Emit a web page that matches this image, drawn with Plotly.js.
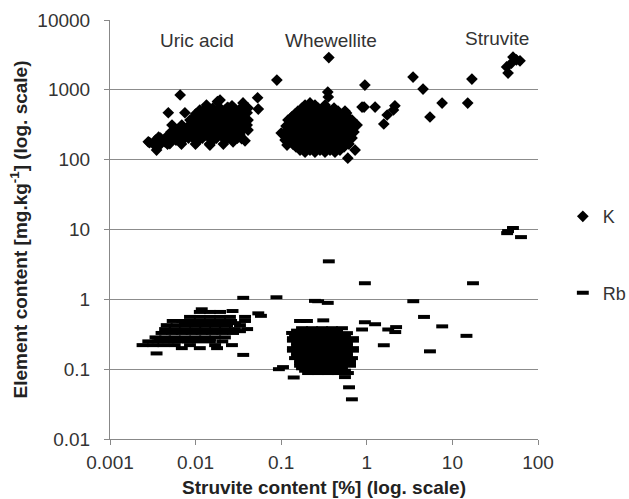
<!DOCTYPE html>
<html><head><meta charset="utf-8">
<script src="https://cdn.plot.ly/plotly-3.0.1.min.js"></script>
<style>html,body{margin:0;padding:0;background:#fff}#chart{width:629px;height:499px}</style>
</head><body><div id="chart"></div>
<script>
// ---------- K (diamonds) ----------
const uricKx = [0.0028,0.0035,0.0034,0.0037,0.0038,0.0048,0.0050,0.0057,0.0059,0.0048,
  0.0066,0.0075,0.0069,0.0077,0.0066,0.0086,0.0090,0.0099,0.0104,0.0107,
  0.0112,0.0121,0.0129,0.0134,0.0139,0.0147,0.0156,0.0165,0.0173,0.0180,
  0.0180,0.0193,0.0205,0.0220,0.0226,0.0238,0.0252,0.0266,0.0274,0.0274,
  0.0294,0.0310,0.0330,0.0345,0.0358,0.0358,0.0378,0.040,0.040,0.041,
  0.053,0.054,0.0193,0.0129,0.0099,0.0081,0.0169,0.022,0.0288,0.0147,
  0.0112,0.0075,0.0053,0.0044,0.0029,0.016,0.024,0.031,
  0.0132,0.0159,0.0193,0.0232,0.0280,0.0338,0.0410,
  0.00997,0.0120,0.0145,0.0175,0.0211,0.0255,0.0308,0.0372,
  0.00908,0.0109,0.0132,0.0159,0.0193,0.0232,0.0280,0.0338,0.0410,
  0.00684,0.00826,0.00997,0.0120,0.0145,0.0175,0.0211,0.0255,0.0308,0.0372,
  0.00516,0.00623,0.00752,0.00907,0.0109,0.0132,0.0159,0.0193,0.0232,0.0280,0.0338,
  0.00389,0.00470,0.00567,0.00684,0.00826,0.00997,0.0120,0.0145,0.0175,0.0211,0.0255,0.0308,
  0.00322,0.00470,0.00684,0.00997,0.0145,0.0211];
const uricKy = [180,137,190,210,162,225,170,265,191,470,
  843,470,313,225,180,369,265,191,180,436,
  514,313,225,605,400,162,285,480,205,680,
  345,245,436,313,191,560,395,590,265,180,
  345,470,225,200,650,295,186,470,313,265,
  770,530,714,369,313,285,313,514,436,436,
  265,205,313,180,175,191,265,313,
  548,548,548,548,548,548,548,
  450,450,450,450,450,450,450,450,
  369,369,369,369,369,369,369,369,369,
  303,303,303,303,303,303,303,303,303,303,
  248,248,248,248,248,248,248,248,248,248,248,
  204,204,204,204,204,204,204,204,204,204,204,204,
  167,167,167,167,167,167];

const wheKx = [0.190,0.248,0.325,
  0.157,0.195,0.242,0.300,0.372,0.461,0.556,
  0.134,0.166,0.206,0.255,0.316,0.392,0.486,0.602,
  0.127,0.153,0.190,0.235,0.292,0.361,0.449,0.556,0.69,
  0.120,0.149,0.185,0.229,0.284,0.352,0.436,0.542,0.672,
  0.114,0.141,0.175,0.217,0.269,0.333,0.414,0.513,0.637,
  0.130,0.161,0.200,0.248,0.308,0.382,0.473,0.587,
  0.149,0.185,0.229,0.284,0.352,0.436,0.542,
  0.190,0.248,0.325,0.425,
  0.175,0.217,0.269,0.333,0.414,
  0.145,0.180,0.223,0.277,0.343,0.425,0.527,
  0.120,0.149,0.185,0.229,0.284,0.352,0.436,0.542,0.672,
  0.114,0.141,0.175,0.217,0.269,0.333,0.414,0.513,0.637,
  0.127,0.157,0.195,0.242,0.300,0.372,0.461,0.571,0.708,
  0.120,0.149,0.185,0.229,0.284,0.352,0.436,0.542,0.672,
  0.137,0.170,0.211,0.262,0.325,0.403,0.500,0.619,
  0.166,0.217,0.284,0.372,0.486,
  0.089,0.36,0.35,0.355,0.95,0.88,0.93,1.25,2.13,2.05,1.73,1.58,
  0.10,0.111,0.133,0.217,0.60,0.73,0.77,0.58,0.117];
const wheKy = [605,605,605,
  497,497,497,497,497,497,497,
  408,408,408,408,408,408,408,408,
  334,334,334,334,334,334,334,334,334,
  274,274,274,274,274,274,274,274,274,
  225,225,225,225,225,225,225,225,225,
  185,185,185,185,185,185,185,185,
  152,152,152,152,152,152,152,
  128,128,128,128,
  548,548,548,548,548,
  450,450,450,450,450,450,450,
  369,369,369,369,369,369,369,369,369,
  303,303,303,303,303,303,303,303,303,
  248,248,248,248,248,248,248,248,248,
  204,204,204,204,204,204,204,204,204,
  167,167,167,167,167,167,167,167,
  137,137,137,137,137,
  1380,2900,930,790,1170,567,567,567,590,514,436,324,
  240,191,410,650,105,137,313,465,162];

const struKx = [3.47,4.54,5.47,7.58,15.1,16.9,44.7,43,51,61.6,49,56];
const struKy = [1525,1026,408,647,647,1428,1740,2130,2950,2600,2420,2680];

// ---------- Rb (dashes) ----------
const uricRbx = [0.0112,0.0147,0.0193,
  0.0086,0.0112,0.0147,0.0193,0.0252,0.0378,
  0.0054,0.0070,0.0090,0.0118,0.0155,0.020,0.026,0.0378,
  0.0046,0.0060,0.0079,0.0104,0.0136,0.0178,0.0233,0.033,
  0.0044,0.0057,0.0075,0.0099,0.0129,0.0169,0.022,0.0288,0.040,
  0.0040,0.0053,0.0069,0.0090,0.0118,0.0155,0.0205,0.0274,
  0.0034,0.0044,0.0057,0.0075,0.0099,0.0129,0.0169,0.022,
  0.0028,0.0036,0.0048,0.0062,0.0081,0.0107,0.0147,0.0205,
  0.0024,0.0032,0.0042,0.0057,0.0086,0.0169,0.0266,
  0.0069,0.0112,0.0178,
  0.0035,0.036,
  0.036,0.0118,0.027,0.054,0.058,
  0.0075,0.0099,0.0129,0.0169,0.022,0.0288,
  0.0050,0.0066,0.0086,0.0112,0.0147,0.0193,0.0252,0.033,
  0.0038,0.0050,0.0066,0.0086,0.0112,0.0147];
const uricRby = [0.66,0.66,0.66,
  0.56,0.56,0.56,0.56,0.56,0.56,
  0.49,0.49,0.49,0.49,0.49,0.49,0.49,0.49,
  0.427,0.427,0.427,0.427,0.427,0.427,0.427,0.427,
  0.375,0.375,0.375,0.375,0.375,0.375,0.375,0.375,0.375,
  0.33,0.33,0.33,0.33,0.33,0.33,0.33,0.33,
  0.285,0.285,0.285,0.285,0.285,0.285,0.285,0.285,
  0.25,0.25,0.25,0.25,0.25,0.25,0.25,0.25,
  0.221,0.221,0.221,0.221,0.221,0.221,0.221,
  0.20,0.20,0.20,
  0.168,0.16,
  1.05,0.72,0.68,0.63,0.58,
  0.456,0.456,0.456,0.456,0.456,0.456,
  0.35,0.35,0.35,0.35,0.35,0.35,0.35,0.35,
  0.269,0.269,0.269,0.269,0.269,0.269];

const wheRbx = [0.175,0.229,0.300,0.392,0.513,
  0.153,0.200,0.262,0.343,0.449,0.587,
  0.137,0.180,0.235,0.308,0.403,0.527,0.69,
  0.153,0.200,0.262,0.343,0.449,0.587,
  0.137,0.180,0.235,0.308,0.403,0.527,0.69,
  0.153,0.200,0.262,0.343,0.449,0.587,
  0.145,0.190,0.248,0.325,0.425,0.556,0.672,
  0.166,0.217,0.284,0.372,0.486,0.637,
  0.175,0.229,0.300,0.392,0.513,
  0.206,0.269,0.352,0.461,0.602,
  0.153,0.200,0.262,0.343,0.449,
  0.145,0.190,0.248,0.325,0.425,0.556,
  0.137,0.180,0.235,0.308,0.403,0.527,0.69,
  0.153,0.200,0.262,0.343,0.449,0.587,
  0.137,0.180,0.235,0.308,0.403,0.527,0.69,
  0.153,0.200,0.262,0.343,0.449,0.587,
  0.166,0.217,0.284,0.372,0.486,0.637,
  0.166,0.217,0.284,0.372,0.486,0.637,
  0.190,0.248,0.325,0.425,0.556,
  0.36,0.95,0.088,0.27,0.35,0.20,0.31,0.134,0.95,1.25,0.88,1.78,2.2,2.15,1.58,
  0.105,0.094,0.14,0.556,0.62,0.67,0.166,0.248];
const wheRby = [0.386,0.386,0.386,0.386,0.386,
  0.328,0.328,0.328,0.328,0.328,0.328,
  0.278,0.278,0.278,0.278,0.278,0.278,0.278,
  0.236,0.236,0.236,0.236,0.236,0.236,
  0.20,0.20,0.20,0.20,0.20,0.20,0.20,
  0.169,0.169,0.169,0.169,0.169,0.169,
  0.144,0.144,0.144,0.144,0.144,0.144,0.144,
  0.122,0.122,0.122,0.122,0.122,0.122,
  0.103,0.103,0.103,0.103,0.103,
  0.088,0.088,0.088,0.088,0.088,
  0.356,0.356,0.356,0.356,0.356,
  0.302,0.302,0.302,0.302,0.302,0.302,
  0.256,0.256,0.256,0.256,0.256,0.256,0.256,
  0.217,0.217,0.217,0.217,0.217,0.217,
  0.184,0.184,0.184,0.184,0.184,0.184,0.184,
  0.156,0.156,0.156,0.156,0.156,0.156,
  0.132,0.132,0.132,0.132,0.132,0.132,
  0.112,0.112,0.112,0.112,0.112,0.112,
  0.095,0.095,0.095,0.095,0.095,
  3.5,1.7,1.07,0.94,0.89,0.49,0.50,0.33,0.47,0.44,0.37,0.37,0.40,0.34,0.22,
  0.107,0.10,0.076,0.077,0.055,0.037,0.49,0.95];

const struRbx = [3.49,4.66,7.6,14.6,5.47,17.4,44.7,51,43.6,63.3];
const struRby = [0.94,0.56,0.41,0.30,0.18,1.7,9.49,10.5,8.87,7.78];

const xTicks = [0.001,0.01,0.1,1,10,100];
const xTickText = ['0.001','0.01','0.1','1','10','100'];
const yTicks = [0.01,0.1,1,10,100,1000,10000];
const yTickText = ['0.01','0.1','1','10','100','1000','10000'];
const groupLabels = ['Uric acid','Whewellite','Struvite'];
const groupLabelX = [0.0105,0.38,33];
const groupLabelY = [5150,5150,5500];

const FONT = 'Liberation Sans, Arial, sans-serif';
const kTrace = {
  x: [].concat(uricKx, wheKx, struKx), y: [].concat(uricKy, wheKy, struKy),
  type: 'scatter', mode: 'markers', name: 'K', legendgroup: 'k',
  marker: {symbol: 'diamond', size: 9, color: '#000', line: {width: 0}}
};
const rbTrace = {
  x: [].concat(uricRbx, wheRbx, struRbx), y: [].concat(uricRby, wheRby, struRby),
  type: 'scatter', mode: 'markers', name: 'Rb', legendgroup: 'rb',
  marker: {symbol: 'line-ew', size: 8.5, color: '#000', line: {width: 4, color: '#000'}}
};
const layout = {
  width: 629, height: 499,
  margin: {l: 110, r: 91, t: 20, b: 60, autoexpand: false},
  paper_bgcolor: '#fff', plot_bgcolor: '#fff',
  font: {family: FONT, size: 19, color: '#333'},
  showlegend: true,
  legend: {x: 1.058, xanchor: 'left', y: 0.575, yanchor: 'top', traceorder: 'grouped',
           tracegroupgap: 50, font: {family: FONT, size: 18, color: '#333'}, bgcolor: 'rgba(0,0,0,0)'},
  xaxis: {type: 'log', range: [-3, 2], tickvals: xTicks, ticktext: xTickText,
          ticks: 'outside', ticklen: 5, tickcolor: '#888', showline: true, linecolor: '#888',
          showgrid: false, zeroline: false, automargin: false, ticklabelstandoff: 1,
          tickfont: {family: FONT, size: 19, color: '#333'},
          title: {text: '<b>Struvite content [%] (log. scale)</b>', standoff: 8,
                  font: {family: FONT, size: 19, color: '#222'}}},
  yaxis: {type: 'log', range: [-2, 4], tickvals: yTicks, ticktext: yTickText,
          ticks: 'outside', ticklen: 5, tickcolor: '#888', showline: true, linecolor: '#888',
          showgrid: true, gridcolor: '#8c8c8c', gridwidth: 1, zeroline: false, automargin: false,
          ticklabelstandoff: 10,
          tickfont: {family: FONT, size: 19, color: '#333'},
          title: {text: '<b>Element content [mg.kg<sup>-1</sup>] (log. scale)</b>', standoff: 4,
                  font: {family: FONT, size: 19, color: '#222'}}},
  annotations: groupLabels.map((t, i) => ({
    text: t, x: Math.log10(groupLabelX[i]), y: Math.log10(groupLabelY[i]), xref: 'x', yref: 'y',
    showarrow: false, font: {family: FONT, size: 19, color: '#333'}
  }))
};
Plotly.newPlot('chart', [kTrace, rbTrace], layout, {staticPlot: true});
</script></body></html>
